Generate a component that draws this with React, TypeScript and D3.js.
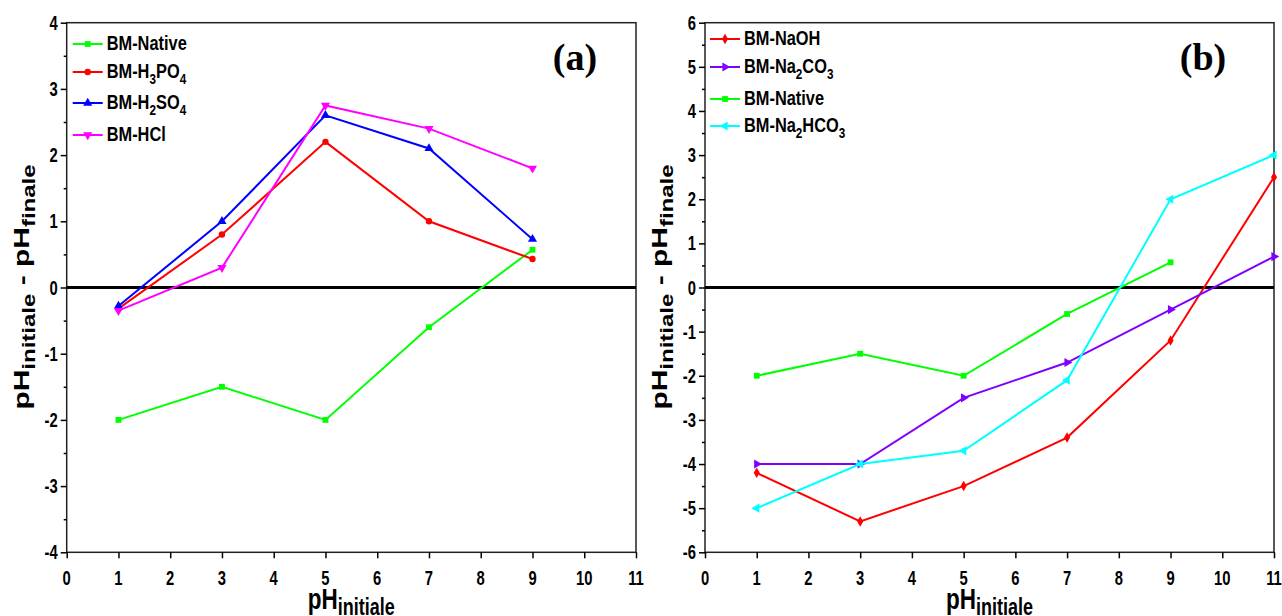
import React, { useEffect, useRef } from 'react';
import * as d3 from 'd3';

// pH initial values
const phA = [1, 3, 5, 7, 9];
const phB = [1, 3, 5, 7, 9, 11];

// panel (a) - acid treatments
const nativeA = [-2, -1.5, -2, -0.6, 0.57];
const h3po4 = [-0.32, 0.8, 2.2, 1.0, 0.43];
const h2so4 = [-0.28, 1.0, 2.6, 2.1, 0.73];
const hcl = [-0.35, 0.3, 2.75, 2.4, 1.8];

// panel (b) - basic treatments
const naoh = [-4.2, -5.3, -4.5, -3.4, -1.2, 2.5];
const na2co3 = [-4, -4, -2.5, -1.7, -0.5, 0.7];
const nativeB = [-2, -1.5, -2, -0.6, 0.57];
const na2hco3 = [-5, -4, -3.7, -2.1, 2.0, 3.0];

const xTicks = d3.range(0, 12);
const FONT = '"Liberation Sans", Arial, sans-serif';

type Part = { t: string; sub?: boolean };

const addText = (parent: any, x: number, y: number, parts: Part[], size: number, subSize: number,
  subDy: number, anchor: string, sx: number, rot = false) => {
  const g = parent.append('g')
    .attr('transform', `translate(${x},${y}) scale(${sx},1)` + (rot ? ' rotate(-90)' : ''));
  const t = g.append('text')
    .attr('font-family', FONT)
    .attr('font-weight', 'bold')
    .attr('font-size', size)
    .attr('text-anchor', anchor)
    .attr('fill', '#000');
  let cur = 0;
  parts.forEach(p => {
    const target = p.sub ? subDy : 0;
    t.append('tspan')
      .attr('dy', target - cur)
      .attr('font-size', p.sub ? subSize : size)
      .text(p.t);
    cur = target;
  });
};

const symbolFor = (kind: string) => {
  switch (kind) {
    case 'square': return { type: d3.symbolSquare, size: 34, rot: 0 };
    case 'circle': return { type: d3.symbolCircle, size: 32, rot: 0 };
    case 'diamond': return { type: d3.symbolDiamond, size: 32, rot: 0 };
    case 'up': return { type: d3.symbolTriangle, size: 36, rot: 0 };
    case 'down': return { type: d3.symbolTriangle, size: 36, rot: 180 };
    case 'right': return { type: d3.symbolTriangle, size: 36, rot: 90 };
    default: return { type: d3.symbolTriangle, size: 36, rot: -90 };
  }
};

const drawPanel = (svg: any, opt: any) => {
  const { x0, x1, yMin, yMax, series, legX, legY, title, titleX } = opt;
  const top = 22.7, bottom = 552.3;
  const x = d3.scaleLinear().domain([0, 11]).range([x0, x1]);
  const y = d3.scaleLinear().domain([yMin, yMax]).range([bottom, top]);
  const g = svg.append('g');

  // frame
  g.append('rect')
    .attr('x', x0).attr('y', top)
    .attr('width', x1 - x0).attr('height', bottom - top)
    .attr('fill', 'none').attr('stroke', '#222').attr('stroke-width', 1.5);

  // y axis major + minor ticks
  const yMajor = d3.range(yMin, yMax + 1);
  const ga = g.append('g').attr('transform', `translate(${x0},0)`)
    .call(d3.axisLeft(y).tickValues(yMajor).tickSize(6).tickFormat(() => ''));
  ga.select('.domain').remove();
  const gm = g.append('g').attr('transform', `translate(${x0},0)`)
    .call(d3.axisLeft(y).tickValues(d3.range(yMin + 0.5, yMax, 1)).tickSize(3).tickFormat(() => ''));
  gm.select('.domain').remove();
  g.selectAll('.tick line').attr('stroke', '#000').attr('stroke-width', 1.5);
  yMajor.forEach(v => addText(g, x0 - 9, y(v) + 7, [{ t: String(v) }], 20, 20, 0, 'end', 0.74));

  // x axis
  const gx = g.append('g').attr('transform', `translate(0,${bottom})`)
    .call(d3.axisBottom(x).tickValues(xTicks).tickSize(6).tickFormat(() => ''));
  gx.select('.domain').remove();
  gx.selectAll('.tick line').attr('stroke', '#000').attr('stroke-width', 1.5);
  xTicks.forEach(v => addText(g, x(v), 585, [{ t: String(v) }], 20, 20, 0, 'middle', 0.74));

  // axis titles
  addText(g, (x0 + x1) / 2, 609, [{ t: 'pH' }, { t: 'initiale', sub: true }], 30, 24, 6, 'middle', 0.75);
  addText(g, x0 - 38, 287, [{ t: 'pH' }, { t: 'initiale', sub: true }, { t: ' - pH' }, { t: 'finale', sub: true }],
    30, 24, 8, 'middle', 0.75, true);

  // zero line
  g.append('line')
    .attr('x1', x0).attr('x2', x1).attr('y1', y(0)).attr('y2', y(0))
    .attr('stroke', '#000').attr('stroke-width', 3);

  const line = d3.line<[number, number]>().x(d => x(d[0])).y(d => y(d[1]));

  series.forEach((s: any, i: number) => {
    const pts: [number, number][] = s.vals.map((v: number, k: number) => [s.xs[k], v]);
    g.append('path').attr('d', line(pts)).attr('fill', 'none')
      .attr('stroke', s.color).attr('stroke-width', 2);
    const sym = symbolFor(s.marker);
    const path = d3.symbol().type(sym.type).size(sym.size)();
    g.selectAll(null).data(pts).join('path')
      .attr('d', path)
      .attr('transform', (d: [number, number]) => `translate(${x(d[0])},${y(d[1])}) rotate(${sym.rot})`)
      .attr('fill', s.color);

    // legend
    const ly = legY[i];
    g.append('line').attr('x1', legX).attr('x2', legX + 30).attr('y1', ly).attr('y2', ly)
      .attr('stroke', s.color).attr('stroke-width', 2);
    g.append('path').attr('d', path)
      .attr('transform', `translate(${legX + 15},${ly}) rotate(${sym.rot})`)
      .attr('fill', s.color);
    addText(g, legX + 34, ly + 6, s.label, 21, 15, 6, 'start', 0.78);
  });

  g.append('text')
    .attr('x', titleX).attr('y', 70)
    .attr('text-anchor', 'middle')
    .attr('font-family', '"Liberation Serif", "Times New Roman", serif')
    .attr('font-weight', 'bold')
    .attr('font-size', 38)
    .text(title);
};

const App = () => {
  const svgRef = useRef<SVGSVGElement>(null);

  useEffect(() => {
    const svg = d3.select(svgRef.current);
    svg.selectAll('*').remove();

    drawPanel(svg, {
      x0: 66.7, x1: 636, yMin: -4, yMax: 4,
      legX: 72.7, legY: [44, 72, 103, 135],
      title: '(a)', titleX: 575,
      series: [
        { xs: phA, vals: nativeA, color: '#00ff00', marker: 'square', label: [{ t: 'BM-Native' }] },
        { xs: phA, vals: h3po4, color: '#ff0000', marker: 'circle',
          label: [{ t: 'BM-H' }, { t: '3', sub: true }, { t: 'PO' }, { t: '4', sub: true }] },
        { xs: phA, vals: h2so4, color: '#0000ff', marker: 'up',
          label: [{ t: 'BM-H' }, { t: '2', sub: true }, { t: 'SO' }, { t: '4', sub: true }] },
        { xs: phA, vals: hcl, color: '#ff00ff', marker: 'down', label: [{ t: 'BM-HCl' }] },
      ],
    });

    drawPanel(svg, {
      x0: 705, x1: 1274, yMin: -6, yMax: 6,
      legX: 710, legY: [39, 67, 99, 126],
      title: '(b)', titleX: 1203,
      series: [
        { xs: phB, vals: naoh, color: '#ff0000', marker: 'diamond', label: [{ t: 'BM-NaOH' }] },
        { xs: phB, vals: na2co3, color: '#8000ff', marker: 'right',
          label: [{ t: 'BM-Na' }, { t: '2', sub: true }, { t: 'CO' }, { t: '3', sub: true }] },
        { xs: phA, vals: nativeB, color: '#00ff00', marker: 'square', label: [{ t: 'BM-Native' }] },
        { xs: phB, vals: na2hco3, color: '#00ffff', marker: 'left',
          label: [{ t: 'BM-Na' }, { t: '2', sub: true }, { t: 'HCO' }, { t: '3', sub: true }] },
      ],
    });
  }, []);

  return (
    <svg ref={svgRef} width={1282} height={616}
      style={{ position: 'absolute', left: 0, top: 0, background: '#fff' }} />
  );
};

export default App;
